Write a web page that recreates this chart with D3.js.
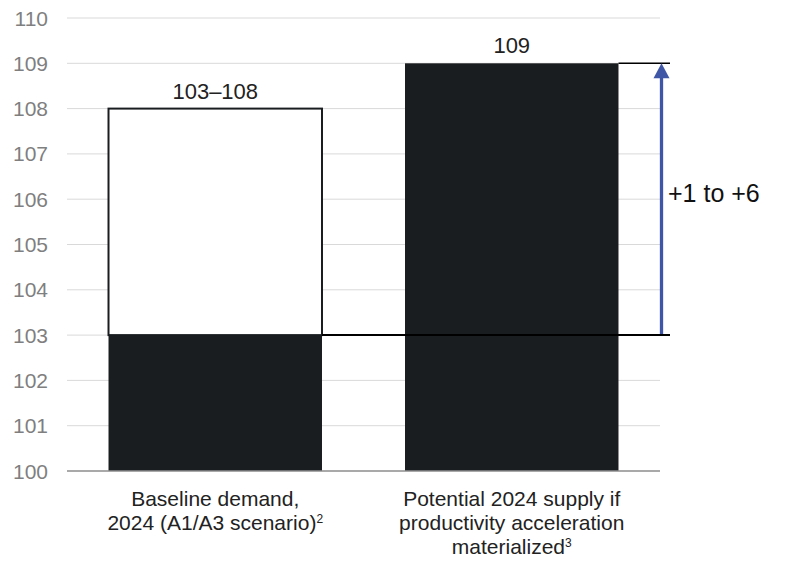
<!DOCTYPE html>
<html><head><meta charset="utf-8">
<script src="https://cdn.jsdelivr.net/npm/d3@7"></script>
<style>body{margin:0;background:#fff}svg{display:block;font-family:"Liberation Sans",Arial,sans-serif}</style>
</head><body>
<svg id="c" width="790" height="570"></svg>
<script>
const categories = ["baseline", "supply"];
const categoryLines = [
  ["Baseline demand,", "2024 (A1/A3 scenario)|2"],
  ["Potential 2024 supply if", "productivity acceleration", "materialized|3"]
];
const solidValues = [103, 109];
const rangeTop = [108, 109];
const valueLabels = ["103\u2013108", "109"];
const yTicks = [100,101,102,103,104,105,106,107,108,109,110];
const gapFrom = 103, gapTo = 109;
const gapLabel = "+1 to +6";

const svg = d3.select("#c");
const y = d3.scaleLinear().domain([100,110]).range([471,18]);
const x = d3.scaleBand().domain(categories).range([67,660]).paddingInner(0.28).paddingOuter(0.14);

// gridlines
svg.append("g").selectAll("line").data(yTicks.filter(t=>t>100)).join("line")
  .attr("x1",67).attr("x2",660).attr("y1",d=>y(d)).attr("y2",d=>y(d))
  .attr("stroke","#d9d9d9").attr("stroke-width",1);

// tick labels
svg.append("g").selectAll("text").data(yTicks).join("text")
  .attr("x",48).attr("y",d=>y(d)).attr("dy","0.36em").attr("text-anchor","end")
  .attr("font-size",21).attr("fill","#7f7f7f").text(d=>d);

// range (white) boxes
svg.append("g").selectAll("rect").data(categories.filter((c,i)=>rangeTop[i]>solidValues[i])).join("rect")
  .attr("x",c=>x(c)).attr("width",x.bandwidth())
  .attr("y",c=>y(rangeTop[categories.indexOf(c)]))
  .attr("height",c=>{const i=categories.indexOf(c);return y(solidValues[i])-y(rangeTop[i]);})
  .attr("fill","#fff").attr("stroke","#1a1d20").attr("stroke-width",2);

// solid bars
svg.append("g").selectAll("rect").data(categories).join("rect")
  .attr("x",c=>x(c)).attr("width",x.bandwidth())
  .attr("y",(c,i)=>y(solidValues[i])).attr("height",(c,i)=>y(100)-y(solidValues[i]))
  .attr("fill","#1a1d20");

// baseline axis
svg.append("line").attr("x1",67).attr("x2",660).attr("y1",y(100)).attr("y2",y(100))
  .attr("stroke","#8c8c8c").attr("stroke-width",1.5);

// value labels
svg.append("g").selectAll("text").data(categories).join("text")
  .attr("x",c=>x(c)+x.bandwidth()/2).attr("y",(c,i)=>y(rangeTop[i])-10)
  .attr("text-anchor","middle").attr("font-size",22).attr("fill","#222")
  .text((c,i)=>valueLabels[i]);

// reference lines
const ax = 661.5, xEnd = 670;
svg.append("line").attr("x1",x(categories[0])+x.bandwidth()).attr("x2",xEnd)
  .attr("y1",y(gapFrom)).attr("y2",y(gapFrom)).attr("stroke","#000").attr("stroke-width",2);
svg.append("line").attr("x1",x(categories[1])+x.bandwidth()).attr("x2",xEnd)
  .attr("y1",y(gapTo)).attr("y2",y(gapTo)).attr("stroke","#000").attr("stroke-width",1.5);

// arrow
const headH = 15, headW = 16;
svg.append("line").attr("x1",ax).attr("x2",ax).attr("y1",y(gapFrom)-1).attr("y2",y(gapTo)+headH-1)
  .attr("stroke","#3f56a6").attr("stroke-width",3.3);
svg.append("path")
  .attr("d",`M${ax},${y(gapTo)}L${ax+headW/2},${y(gapTo)+headH}L${ax-headW/2},${y(gapTo)+headH}Z`)
  .attr("fill","#3f56a6");

svg.append("text").attr("x",668).attr("y",202)
  .attr("font-size",25).attr("fill","#111").text(gapLabel);

// category labels
categoryLines.forEach((lines,i)=>{
  const cx = x(categories[i])+x.bandwidth()/2;
  lines.forEach((ln,j)=>{
    const parts = ln.split("|");
    const t = svg.append("text").attr("x",cx).attr("y",506+j*24)
      .attr("text-anchor","middle").attr("font-size",21).attr("fill","#222");
    t.append("tspan").text(parts[0]);
    if(parts[1]) t.append("tspan").attr("font-size",12).attr("dy",-7).text(parts[1]);
  });
});
</script>
</body></html>
